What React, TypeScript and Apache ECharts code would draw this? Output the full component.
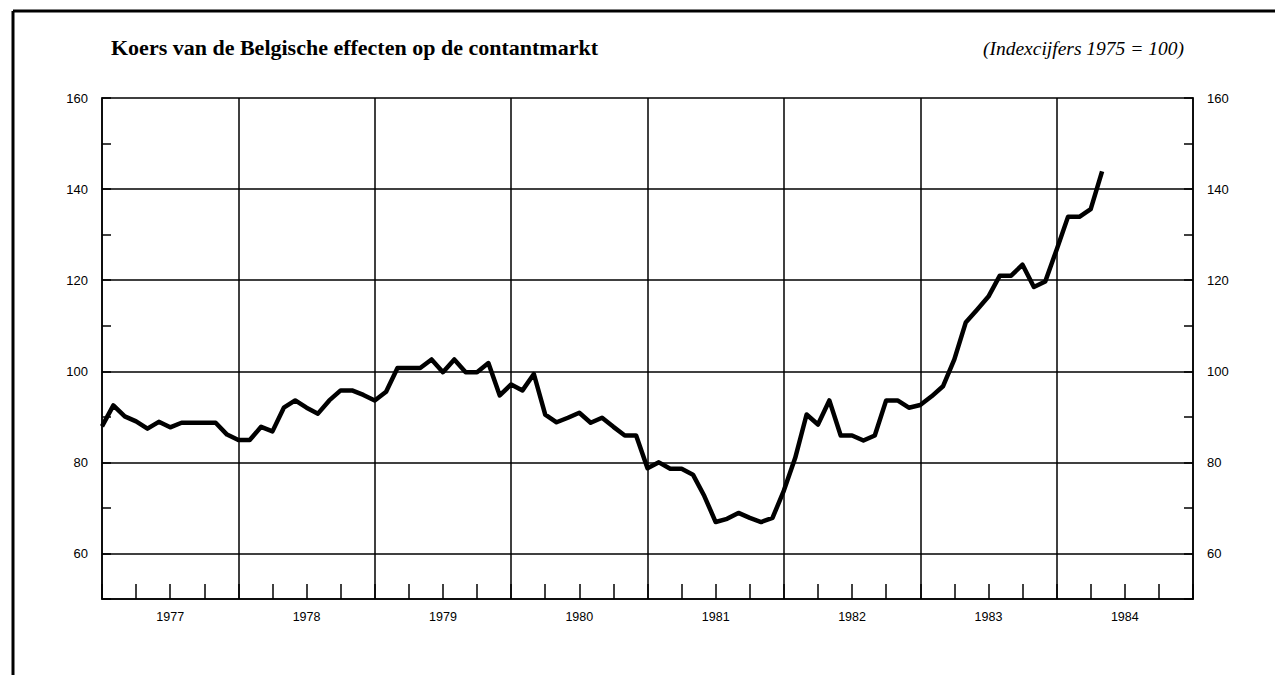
import React, { useEffect, useRef } from "react";
import * as echarts from "echarts";

// Monthly index values, Jan 1977 .. May 1984 (index 1975 = 100)
const startYear = 1977;
const yearLabels = ["1977", "1978", "1979", "1980", "1981", "1982", "1983", "1984"];
const indexValues = [
  87.9, 92.5, 90.1, 89.0, 87.4, 88.9, 87.7, 88.7, 88.7, 88.7, 88.7, 86.1, // 1977
  84.9, 84.9, 87.8, 86.8, 92.0, 93.6, 92.0, 90.7, 93.6, 95.8, 95.8, 94.8, // 1978
  93.6, 95.5, 100.7, 100.7, 100.7, 102.6, 99.8, 102.6, 99.8, 99.8, 101.8, 94.7, // 1979
  97.1, 95.8, 99.4, 90.5, 88.8, 89.8, 90.9, 88.7, 89.8, 87.8, 85.9, 85.9, // 1980
  78.7, 80.0, 78.6, 78.6, 77.3, 72.6, 66.9, 67.6, 68.9, 67.8, 66.9, 67.8, // 1981
  73.8, 81.0, 90.5, 88.3, 93.6, 85.9, 85.9, 84.8, 85.9, 93.6, 93.6, 92.0, // 1982
  92.6, 94.5, 96.7, 102.6, 110.7, 113.5, 116.4, 121.0, 121.0, 123.4, 118.5, 119.7, // 1983
  126.7, 133.9, 133.9, 135.6, 143.9, // 1984
];
const yearBoundaries = [12, 24, 36, 48, 60, 72, 84];
const horizontalGrid = [60, 80, 100, 120, 140];

const titleText = "Koers van de Belgische effecten op de contantmarkt";
const subtitleText = "(Indexcijfers 1975 = 100)";

export default function App() {
  const ref = useRef<HTMLDivElement>(null);

  useEffect(() => {
    document.body.style.margin = "0";
    if (!ref.current) return;
    const chart = echarts.init(ref.current, undefined, { renderer: "svg" });
    const axisFont = { fontFamily: "Liberation Sans", fontSize: 13, color: "#000" };
    const yAxisCommon = {
      type: "value" as const,
      min: 50,
      max: 160,
      interval: 10,
      axisLine: { show: true, lineStyle: { color: "#000", width: 1.5 } },
      axisTick: { show: true, inside: true, length: 9, lineStyle: { color: "#000", width: 1.5 } },
      splitLine: { show: false },
      axisLabel: {
        ...axisFont,
        margin: 14,
        formatter: (v: number) => (v % 20 === 0 && v >= 60 ? String(v) : ""),
      },
    };
    chart.setOption({
      animation: false,
      backgroundColor: "#fff",
      title: [
        {
          text: titleText,
          left: 106,
          top: 31,
          textStyle: { fontFamily: "Liberation Serif", fontSize: 22, fontWeight: "bold", color: "#000" },
        },
        {
          text: subtitleText,
          right: 86,
          top: 33,
          textStyle: { fontFamily: "Liberation Serif", fontSize: 19.5, fontStyle: "italic", fontWeight: "normal", color: "#000" },
        },
      ],
      graphic: [
        { type: "line", shape: { x1: 13, y1: 11, x2: 1275, y2: 11 }, style: { stroke: "#000", lineWidth: 3 } },
        { type: "line", shape: { x1: 13, y1: 11, x2: 13, y2: 675 }, style: { stroke: "#000", lineWidth: 3 } },
      ],
      grid: {
        left: 102,
        right: 82,
        top: 98,
        bottom: 76,
        show: true,
        borderColor: "#000",
        borderWidth: 1.5,
        backgroundColor: "transparent",
      },
      xAxis: {
        type: "value",
        min: 0,
        max: 96,
        interval: 3,
        axisLine: { show: true, onZero: false, lineStyle: { color: "#000", width: 1.5 } },
        axisTick: { show: true, inside: true, length: 15, lineStyle: { color: "#000", width: 1.5 } },
        splitLine: { show: false },
        axisLabel: {
          ...axisFont,
          fontSize: 12.5,
          margin: 11,
          formatter: (v: number) => {
            if (v % 12 !== 6) return "";
            const k = (v - 6) / 12;
            return yearLabels[k] ?? String(startYear + k);
          },
        },
      },
      yAxis: [
        { ...yAxisCommon, position: "left" },
        { ...yAxisCommon, position: "right" },
      ],
      series: [
        {
          type: "line",
          yAxisIndex: 0,
          data: indexValues.map((v, i) => [i, v]),
          showSymbol: false,
          lineStyle: { color: "#000", width: 4.5, join: "round" },
          z: 5,
          markLine: {
            silent: true,
            symbol: ["none", "none"],
            label: { show: false },
            lineStyle: { color: "#000", width: 1.5, type: "solid" },
            data: [
              ...yearBoundaries.map((x) => ({ xAxis: x })),
              ...horizontalGrid.map((y) => ({ yAxis: y })),
            ],
          },
        },
      ],
    });
    return () => chart.dispose();
  }, []);

  return <div ref={ref} style={{ width: 1275, height: 675 }} />;
}
